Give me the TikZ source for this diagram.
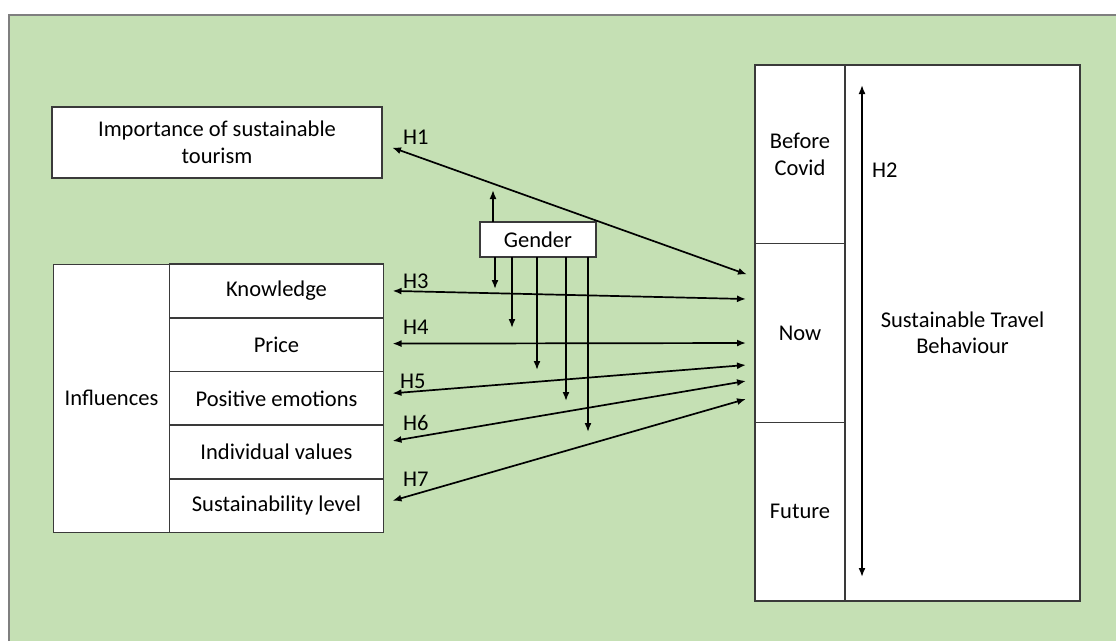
\documentclass[tikz,border=0pt]{standalone}
\usepackage{fontspec}
\setmainfont{Carlito}
\usetikzlibrary{arrows.meta}
\definecolor{bggreen}{HTML}{C5E0B4}
\definecolor{bgline}{HTML}{7F7F7F}
\definecolor{boxline}{HTML}{3A3A3A}

\begin{document}
\begin{tikzpicture}[
x=1pt, y=-1pt,
font=\fontsize{22.5}{26.5}\selectfont
]

\tikzstyle{box} = [fill=white, shape=rectangle, inner sep=0pt, outer sep=0pt, align=center]
\tikzstyle{frame} = [draw=boxline, line width=1.5pt]
\tikzstyle{hyp} = [line width=1.7pt, {Latex[length=9pt,width=7pt]}-{Latex[length=9pt,width=7pt]}]
\tikzstyle{mod} = [line width=1.7pt, -{Latex[length=9pt,width=7pt]}]
\tikzstyle{lab} = [anchor=west, inner sep=0pt]

\useasboundingbox (0,0) rectangle (1116,641);
\fill[white] (0,0) rectangle (1116,641);
\fill[bggreen] (9,15) rectangle (1116,641);
\draw[bgline, line width=2pt] (9,641) -- (9,15) -- (1116,15);

% left side
\node[box, minimum width=330pt, minimum height=71pt] (imp) at (217,142.5) {Importance of sustainable\\tourism};
\node[box, minimum width=116pt, minimum height=268pt] (infl) at (111.5,398.3) {Influences};
\node[box, minimum width=214pt, minimum height=53.7pt] (know) at (276.5,290.9) {Knowledge};
\node[box, minimum width=214pt, minimum height=53.7pt] (price) at (276.5,344.6) {Price};
\node[box, minimum width=214pt, minimum height=53.7pt] (pos) at (276.5,398.3) {Positive emotions};
\node[box, minimum width=214pt, minimum height=53.7pt] (ind) at (276.5,452) {Individual values};
\node[box, minimum width=214pt, minimum height=53.7pt] (sus) at (276.5,505.7) {Sustainability level};

% right side
\node[box, minimum width=235pt, minimum height=536pt] (stb) at (962.5,333) {Sustainable Travel\\Behaviour};
\node[box, minimum width=90pt, minimum height=178.7pt] (before) at (800,154.3) {Before\\Covid};
\node[box, minimum width=90pt, minimum height=178.7pt] (now) at (800,333) {Now};
\node[box, minimum width=90pt, minimum height=178.7pt] (fut) at (800,511.7) {Future};

\node[box, minimum width=116pt, minimum height=35pt] (gender) at (538,239.5) {Gender};

% borders on top, so shared edges keep their full width
\foreach \n in {imp,infl,know,price,pos,ind,sus,stb,before,now,fut,gender}
  \draw[frame] (\n.north west) rectangle (\n.south east);

% hypotheses
\draw[hyp] ([shift={(10,5)}]imp.east) -- ([shift={(-8,-58.5)}]now.west);
\draw[hyp] ([shift={(9,0)}]know.east) -- ([shift={(-9,-34)}]now.west);
\draw[hyp] ([shift={(9,-1)}]price.east) -- ([shift={(-9,10)}]now.west);
\draw[hyp] ([shift={(9,-5)}]pos.east) -- ([shift={(-9,32)}]now.west);
\draw[hyp] ([shift={(9,-11)}]ind.east) -- ([shift={(-9,48)}]now.west);
\draw[hyp] ([shift={(9,-5)}]sus.east) -- ([shift={(-9,66)}]now.west);
\draw[hyp] ([shift={(17,-248)}]stb.west) -- ([shift={(17,244)}]stb.west);

\draw[mod] ([shift={(-45,0)}]gender.north) -- ++(0,-32);
\draw[mod] ([shift={(-43,0)}]gender.south) -- ++(0,32);
\draw[mod] ([shift={(-26,0)}]gender.south) -- ++(0,71);
\draw[mod] ([shift={(-1,0)}]gender.south) -- ++(0,113);
\draw[mod] ([shift={(28,0)}]gender.south) -- ++(0,144);
\draw[mod] ([shift={(50,0)}]gender.south) -- ++(0,175);

\node[lab] (h1) at (403,137) {H1};
\node[lab] (h2) at (872,170) {H2};
\node[lab] (h3) at (403,281) {H3};
\node[lab] (h4) at (403,327) {H4};
\node[lab] (h5) at (400,381) {H5};
\node[lab] (h6) at (403,423) {H6};
\node[lab] (h7) at (403,479) {H7};

\end{tikzpicture}
\end{document}
